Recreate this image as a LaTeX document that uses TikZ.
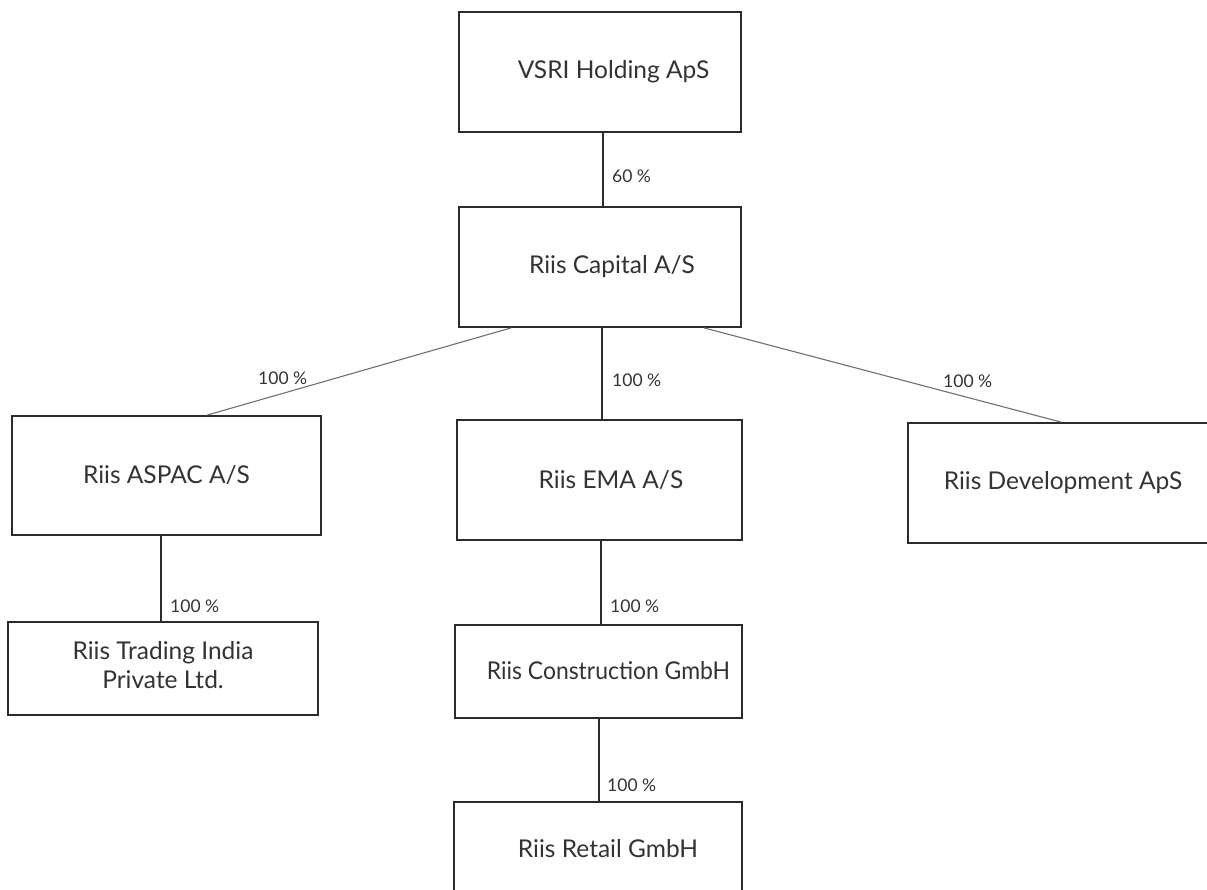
\documentclass[tikz,border=0pt]{standalone}
\usepackage{graphicx}
\usepackage{fontspec}
\setmainfont{Lato}
\definecolor{ink}{HTML}{2B2B2B}
\definecolor{txt}{HTML}{333333}
\definecolor{diag}{HTML}{707070}
\newcommand{\myrightnudge}[2]{\hspace*{#1pt}#2}
\begin{document}
\begin{tikzpicture}[x=1pt,y=-1pt,
  company/.style={draw=ink,line width=1.8pt,rectangle,inner sep=0pt,text=txt,
     font=\fontsize{24.5}{29}\selectfont,align=center},
  pct/.style={anchor=west,inner sep=0pt,text=txt,font=\fontsize{17.5}{19}\selectfont},
  vlink/.style={draw=ink,line width=1.7pt},
  dlink/.style={draw=diag,line width=1.1pt}]
\useasboundingbox[fill=white] (0,0) rectangle (1207,890);
\begin{scope}
\clip (0,0) rectangle (1207,890);
\node[company,minimum width=282,minimum height=120] (vsri) at (600,72) {\myrightnudge{27}{VSRI Holding ApS}};
\node[company,minimum width=282,minimum height=120] (cap) at (600,267) {\myrightnudge{24}{Riis Capital A/S}};
\node[company,minimum width=309,minimum height=119] (aspac) at (166.5,475.5) {Riis ASPAC A/S};
\node[company,minimum width=285,minimum height=120] (ema) at (599.5,480) {\myrightnudge{23}{Riis EMA A/S}};
\node[company,minimum width=310,minimum height=120] (dev) at (1063,483) {Riis Development ApS};
\node[company,minimum width=310,minimum height=93] (trade) at (163,668.5) {\raisebox{-8pt}{\begin{tabular}{@{}c@{}}Riis Trading India\\Private Ltd.\end{tabular}}};
\node[company,minimum width=287,minimum height=93] (cons) at (598.5,671.5) {\raisebox{3pt}{\myrightnudge{20}{\scalebox{0.935}[1]{Riis Construction GmbH}}}};
\node[company,minimum width=288,minimum height=93] (retail) at (598,848.5) {\myrightnudge{20}{Riis Retail GmbH}};

\draw[vlink] ([xshift=3]vsri.south) -- ([xshift=3]cap.north);
\draw[vlink] ([xshift=2]cap.south) -- ([xshift=2.5]ema.north);
\draw[vlink] ([xshift=1.5]ema.south) -- ([xshift=2.5]cons.north);
\draw[vlink] ([xshift=0.5]cons.south) -- ([xshift=1]retail.north);
\draw[vlink] ([xshift=-5.5]aspac.south) -- ([xshift=-2]trade.north);
\draw[dlink] ([xshift=53]cap.south west) -- ([xshift=196]aspac.north west);
\draw[dlink] ([xshift=246]cap.south west) -- ([xshift=154]dev.north west);

\node[pct] (l1) at (612,176) {60 \%};
\node[pct] (l2) at (258,378) {100 \%};
\node[pct] (l3) at (612,380) {100 \%};
\node[pct] (l4) at (943,381) {100 \%};
\node[pct] (l5) at (170,606) {100 \%};
\node[pct] (l6) at (610,606) {100 \%};
\node[pct] (l7) at (607,785) {100 \%};
\end{scope}
\end{tikzpicture}
\end{document}
